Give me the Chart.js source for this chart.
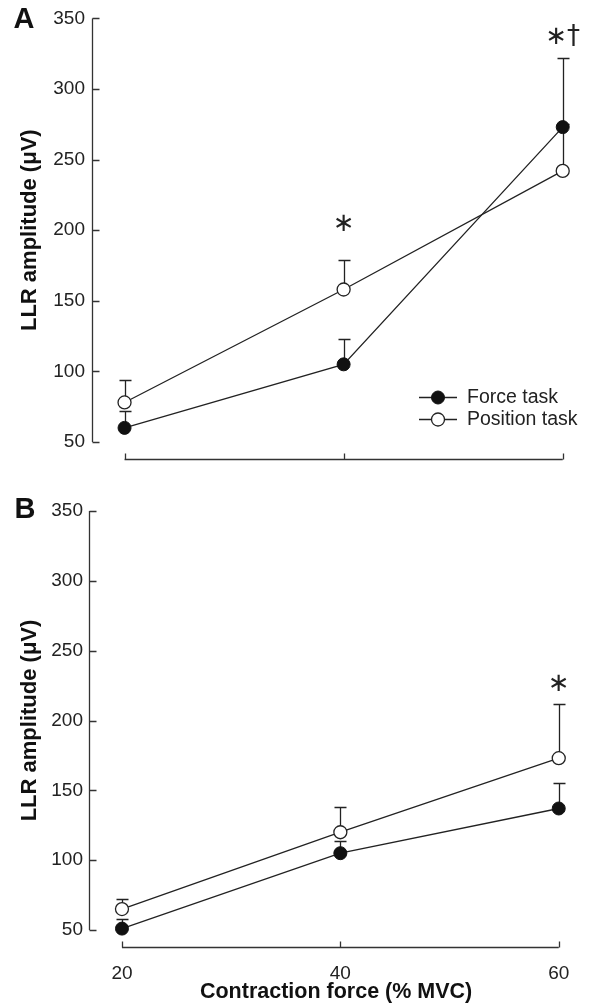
<!DOCTYPE html>
<html><head><meta charset="utf-8">
<script src="https://cdn.jsdelivr.net/npm/chart.js@4.4.0/dist/chart.umd.min.js"></script>
<style>
html,body{margin:0;padding:0;background:#fff;width:591px;height:1007px;overflow:hidden}
#wa{position:absolute;left:0;top:0;width:591px;height:480px}
#wb{position:absolute;left:0;top:480px;width:591px;height:527px}
</style></head><body>
<div id="wa"><canvas id="ca"></canvas></div>
<div id="wb"><canvas id="cb"></canvas></div>
<script>
// ---- data ----
const contractionForce = [20, 40, 60];
const yTickValues = [50, 100, 150, 200, 250, 300, 350];
const forceA = [60, 105, 273];
const forceAErrTop = [72, 123, 322];
const positionA = [78, 158, 242];
const positionAErrTop = [94, 179, 275];
const forceB = [51, 105, 137];
const forceBErrTop = [58, 114, 155];
const positionB = [65, 120, 173];
const positionBErrTop = [72, 138, 212];
const marksA = [{x: 40, y: 204, text: '∗'}, {x: 60, y: 337, text: '∗†'}];
const marksB = [{x: 60, y: 226, text: '∗'}];
const seriesNames = ['Force task', 'Position task'];
const yTitle = 'LLR amplitude (μV)';
const xTitle = 'Contraction force (% MVC)';

const INK = '#222';
const SANS = '"Liberation Sans", Arial, sans-serif';

function pts(vals) { return contractionForce.map((x, i) => ({x, y: vals[i]})); }

function makeDatasets(force, position, forceErr, positionErr) {
  return [
    {label: seriesNames[0], data: pts(force), errTop: forceErr,
     borderColor: INK, borderWidth: 1.3, pointRadius: 6.5, pointHoverRadius: 6.5,
     pointBackgroundColor: '#111', pointBorderColor: '#111', pointBorderWidth: 1,
     tension: 0, clip: false, fill: false},
    {label: seriesNames[1], data: pts(position), errTop: positionErr,
     borderColor: INK, borderWidth: 1.3, pointRadius: 6.5, pointHoverRadius: 6.5,
     pointBackgroundColor: '#fff', pointBorderColor: INK, pointBorderWidth: 1.3,
     tension: 0, clip: false, fill: false}
  ];
}

const customPlugin = {
  id: 'custom',
  beforeDatasetsDraw(chart, args, o) {
    const ctx = chart.ctx, xs = chart.scales.x, ys = chart.scales.y, ca = chart.chartArea;
    ctx.save();
    ctx.strokeStyle = '#333';
    ctx.lineWidth = 1.3;
    // y axis with inward ticks
    const ax = Math.round(ca.left) + 0.5;
    ctx.beginPath();
    ctx.moveTo(ax, ys.getPixelForValue(350));
    ctx.lineTo(ax, ys.getPixelForValue(50));
    yTickValues.forEach(v => {
      const y = Math.round(ys.getPixelForValue(v)) + 0.5;
      ctx.moveTo(ax, y); ctx.lineTo(ax + 7, y);
    });
    ctx.stroke();
    // x axis offset below, inward ticks
    const ay = Math.round(ca.bottom + o.xAxisGap) + 0.5;
    ctx.beginPath();
    ctx.moveTo(xs.getPixelForValue(20), ay);
    ctx.lineTo(xs.getPixelForValue(60), ay);
    contractionForce.forEach(v => {
      const x = Math.round(xs.getPixelForValue(v)) + 0.5;
      ctx.moveTo(x, ay); ctx.lineTo(x, ay - 6);
    });
    ctx.stroke();
    // error bars (upward only)
    ctx.strokeStyle = INK;
    chart.data.datasets.forEach(ds => {
      ds.data.forEach((p, i) => {
        const x = Math.round(xs.getPixelForValue(p.x)) + 0.5;
        const y0 = ys.getPixelForValue(p.y);
        const y1 = Math.round(ys.getPixelForValue(ds.errTop[i])) + 0.5;
        ctx.beginPath();
        ctx.moveTo(x, y0); ctx.lineTo(x, y1);
        ctx.moveTo(x - 6, y1); ctx.lineTo(x + 6, y1);
        ctx.stroke();
      });
    });
    ctx.restore();
  },
  afterDraw(chart, args, o) {
    const ctx = chart.ctx, xs = chart.scales.x, ys = chart.scales.y;
    ctx.save();
    // panel letter
    ctx.fillStyle = '#111';
    ctx.font = 'bold 29px ' + SANS;
    ctx.textAlign = 'center';
    ctx.textBaseline = 'middle';
    ctx.fillText(o.letter, o.letterX, o.letterY);
    // significance marks
    ctx.fillStyle = INK;
    o.marks.forEach(m => {
      ctx.font = '26px "DejaVu Sans", sans-serif';
      ctx.textAlign = 'center';
      ctx.fillText(m.text, xs.getPixelForValue(m.x), ys.getPixelForValue(m.y));
    });
    // legend
    if (o.legend) {
      const L = o.legend;
      chart.data.datasets.forEach((ds, i) => {
        const y = L.y + i * L.gap;
        ctx.strokeStyle = INK; ctx.lineWidth = 1.3;
        ctx.beginPath();
        ctx.moveTo(L.x0, y + 0.5); ctx.lineTo(L.x1, y + 0.5); ctx.stroke();
        ctx.beginPath();
        ctx.arc((L.x0 + L.x1) / 2, y + 0.5, 6.5, 0, Math.PI * 2);
        ctx.fillStyle = ds.pointBackgroundColor; ctx.fill();
        ctx.lineWidth = ds.pointBorderWidth; ctx.strokeStyle = ds.pointBorderColor; ctx.stroke();
        ctx.fillStyle = INK;
        ctx.font = '19.5px ' + SANS;
        ctx.textAlign = 'left';
        ctx.textBaseline = 'middle';
        ctx.fillText(ds.label, L.tx, y + 1);
      });
    }
    ctx.restore();
  }
};

function yScale(width, pad) {
  return {
    type: 'linear', position: 'left', min: 50, max: 350,
    afterBuildTicks: s => { s.ticks = yTickValues.map(v => ({value: v})); },
    afterFit: s => { s.width = width; },
    grid: {display: false, drawTicks: false}, border: {display: false},
    ticks: {color: INK, padding: pad, font: {family: SANS, size: 19}},
    title: {display: true, text: yTitle, color: '#111', padding: {top: 17, bottom: 0},
            font: {family: SANS, size: 22, weight: 'bold'}}
  };
}

Chart.defaults.animation = false;

new Chart(document.getElementById('ca'), {
  type: 'line',
  data: {datasets: makeDatasets(forceA, positionA, forceAErrTop, positionAErrTop)},
  options: {
    responsive: true, maintainAspectRatio: false, animation: false,
    layout: {padding: {left: 0, right: 1, top: 18, bottom: 38}},
    scales: {
      x: {type: 'linear', display: false, min: 17.03, max: 61.87},
      y: yScale(92, 7)
    },
    plugins: {
      legend: {display: false}, tooltip: {enabled: false},
      custom: {letter: 'A', letterX: 24, letterY: 20, xAxisGap: 17, marks: marksA,
               legend: {x0: 419, x1: 457, y: 397, gap: 22, tx: 467}}
    }
  },
  plugins: [customPlugin]
});

new Chart(document.getElementById('cb'), {
  type: 'line',
  data: {datasets: makeDatasets(forceB, positionB, forceBErrTop, positionBErrTop)},
  options: {
    responsive: true, maintainAspectRatio: false, animation: false,
    layout: {padding: {left: 0, right: 1, top: 31, bottom: 0}},
    scales: {
      x: {type: 'linear', position: 'bottom', min: 16.98, max: 62.24,
          afterBuildTicks: s => { s.ticks = contractionForce.map(v => ({value: v})); },
          afterFit: s => { s.height = 77; },
          grid: {display: true, drawOnChartArea: false, drawTicks: true, tickLength: 29,
                 color: 'rgba(0,0,0,0)'},
          border: {display: false},
          ticks: {color: INK, padding: 3, maxRotation: 0, font: {family: SANS, size: 19}},
          title: {display: true, text: xTitle, color: '#111', padding: {top: 0, bottom: 2},
                  font: {family: SANS, size: 21.5, weight: 'bold'}}},
      y: yScale(89, 6)
    },
    plugins: {
      legend: {display: false}, tooltip: {enabled: false},
      custom: {letter: 'B', letterX: 25, letterY: 30, xAxisGap: 17, marks: marksB, legend: null}
    }
  },
  plugins: [customPlugin]
});
</script>
</body></html>
